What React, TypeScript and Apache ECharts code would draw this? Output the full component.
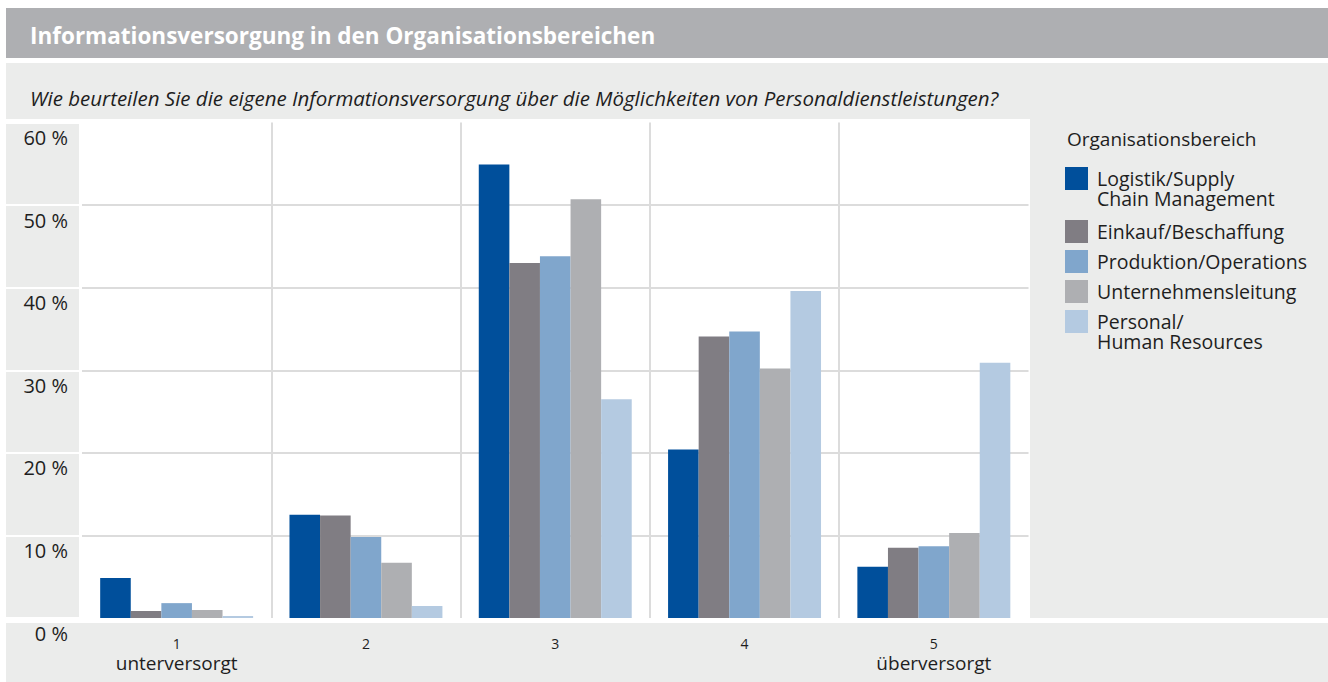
import React, { useEffect, useRef } from "react";
import * as echarts from "echarts";

const TITLE = "Informationsversorgung in den Organisationsbereichen";
const SUBTITLE =
  "Wie beurteilen Sie die eigene Informationsversorgung über die Möglichkeiten von Personaldienstleistungen?";
const LEGEND_TITLE = "Organisationsbereich";

const categories = ["1", "2", "3", "4", "5"];
const categoryNotes = ["unterversorgt", "", "", "", "überversorgt"];
const yTicks = [0, 10, 20, 30, 40, 50, 60];

const seriesNames = [
  "Logistik/Supply\nChain Management",
  "Einkauf/Beschaffung",
  "Produktion/Operations",
  "Unternehmensleitung",
  "Personal/\nHuman Resources",
];
const logistik = [4.85, 12.5, 54.9, 20.4, 6.2];
const einkauf = [0.85, 12.4, 43.0, 34.1, 8.5];
const produktion = [1.8, 9.8, 43.8, 34.7, 8.7];
const leitung = [0.97, 6.7, 50.7, 30.2, 10.3];
const personal = [0.24, 1.45, 26.5, 39.6, 30.9];
const seriesValues = [logistik, einkauf, produktion, leitung, personal];
const colors = ["#004f9b", "#807d83", "#80a6cc", "#aeafb2", "#b4cae1"];

const FONT = "'Open Sans', 'Noto Sans', sans-serif";
const TEXT = "#1e1e1e";
const BG = "#ebeceb";

export default function App() {
  const ref = useRef<HTMLDivElement>(null);
  useEffect(() => {
    document.body.style.margin = "0";
    const chart = echarts.init(ref.current!, undefined, { renderer: "svg" });
    const iconTops = [167, 220, 250, 280, 310];
    const option: any = {
      animation: false,
      backgroundColor: "#ffffff",
      textStyle: { fontFamily: FONT },
      graphic: [
        { type: "rect", z: -10, shape: { x: 6, y: 8, width: 1322, height: 50 }, style: { fill: "#aeafb2" } },
        { type: "rect", z: -10, shape: { x: 6, y: 63, width: 1322, height: 619 }, style: { fill: BG } },
        { type: "rect", z: -9, shape: { x: 6, y: 119, width: 1024, height: 504 }, style: { fill: "#ffffff" } },
        { type: "rect", z: -9, shape: { x: 6, y: 618, width: 1322, height: 5 }, style: { fill: "#ffffff" } },
        {
          type: "text", x: 30, y: 35,
          style: { text: TITLE, fill: "#ffffff", font: `bold 22.5px ${FONT}`, verticalAlign: "middle" },
        },
        {
          type: "text", x: 30, y: 98,
          style: { text: SUBTITLE, fill: TEXT, font: `italic 20.5px ${FONT}`, verticalAlign: "middle" },
        },
        {
          type: "text", x: 1067, y: 139,
          style: { text: LEGEND_TITLE, fill: TEXT, font: `19px ${FONT}`, verticalAlign: "middle" },
        },
      ],
      legend: seriesNames.map((n, i) => {
        const multi = n.includes("\n");
        return {
          left: 1065,
          top: multi ? iconTops[i] - 18.5 : iconTops[i],
          orient: "vertical",
          padding: 0,
          itemWidth: 23,
          itemHeight: 23,
          icon: "rect",
          selectedMode: false,
          formatter: (name: string) => (name.includes("\n") ? "\n" + name : name),
          textStyle: {
            fontSize: 19.5,
            fontFamily: FONT,
            color: TEXT,
            lineHeight: 20,
            padding: [0, 0, 0, 4],
          },
          data: [n],
        };
      }),
      grid: [
        { left: 82, width: 946.5, top: 122.5, height: 495.5, containLabel: false },
        { left: 6, width: 73, top: 122.5, height: 495.5, containLabel: false },
      ],
      xAxis: [
        {
          type: "category",
          gridIndex: 0,
          data: categories,
          axisLine: { show: false },
          axisTick: { show: false },
          splitLine: {
            show: true,
            showMinLine: false,
            showMaxLine: false,
            lineStyle: { color: "#dcdcdc", width: 2 },
          },
          axisLabel: {
            margin: 16,
            formatter: (v: string, i: number) =>
              categoryNotes[i] ? `{n|${v}}\n{w|${categoryNotes[i]}}` : `{n|${v}}`,
            rich: {
              n: { fontSize: 14, lineHeight: 18, color: TEXT, fontFamily: FONT },
              w: { fontSize: 19, lineHeight: 22, color: TEXT, fontFamily: FONT },
            },
          },
        },
        { type: "value", gridIndex: 1, show: false },
      ],
      yAxis: [
        {
          type: "value",
          gridIndex: 0,
          min: yTicks[0],
          max: yTicks[yTicks.length - 1],
          interval: 10,
          axisLine: { show: false },
          axisTick: { show: false },
          splitLine: {
            show: true,
            showMinLine: false,
            showMaxLine: false,
            lineStyle: { color: "#dcdcdc", width: 2 },
          },
          axisLabel: {
            margin: 14,
            fontSize: 20,
            color: TEXT,
            fontFamily: FONT,
            verticalAlign: "top",
            padding: [5, 0, 0, 0],
            formatter: (v: number) => `${v} %`,
          },
        },
        {
          type: "value",
          gridIndex: 1,
          min: yTicks[0],
          max: yTicks[yTicks.length - 1],
          interval: 10,
          axisLine: { show: false },
          axisTick: { show: false },
          axisLabel: { show: false },
          splitLine: { show: true, lineStyle: { color: "#ffffff", width: 2 } },
          splitArea: { show: true, areaStyle: { color: [BG, BG] } },
        },
      ],
      series: seriesNames.map((n, i) => ({
        type: "bar",
        name: n,
        xAxisIndex: 0,
        yAxisIndex: 0,
        data: seriesValues[i],
        itemStyle: { color: colors[i] },
        barGap: "0%",
        barCategoryGap: "19.2%",
      })),
    };
    chart.setOption(option);
    return () => chart.dispose();
  }, []);
  return <div ref={ref} style={{ width: 1328, height: 682 }} />;
}
